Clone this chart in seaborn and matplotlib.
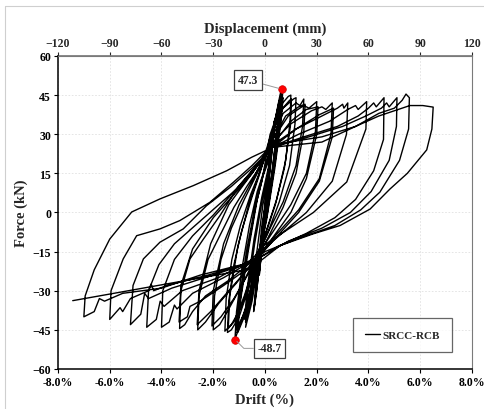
import numpy as np
import pandas as pd
import matplotlib
matplotlib.use("Agg")
import matplotlib.pyplot as plt
from matplotlib.lines import Line2D
from matplotlib.ticker import FuncFormatter
import seaborn as sns

# ---------------- data (drift %, force kN) ----------------
series_name = "SRCC-RCB"
drift_ticks = [-8, -6, -4, -2, 0, 2, 4, 6, 8]
force_ticks = [-60, -45, -30, -15, 0, 15, 30, 45, 60]
disp_ticks = [-120, -90, -60, -30, 0, 30, 60, 90, 120]
mm_per_pct = 15.0

peak_pos = (0.64, 47.3)
peak_neg = (-1.16, -48.7)

cycle_01 = [(0.00, 0), (0.08, 9), (0.18, 20), (0.12, 13), (0.00, 0), (-0.10, -11),
            (-0.20, -22), (-0.13, -13), (-0.02, -2)]
cycle_02 = [(0.06, 8), (0.16, 19), (0.20, 22), (0.13, 12), (0.01, -1), (-0.12, -13),
            (-0.22, -24), (-0.14, -14), (-0.03, -1)]
cycle_03 = [(0.10, 12), (0.28, 29), (0.36, 35), (0.28, 25), (0.08, 6), (-0.12, -12),
            (-0.32, -30), (-0.42, -37), (-0.30, -24), (-0.10, -6)]
cycle_04 = [(0.10, 13), (0.26, 27), (0.38, 36), (0.30, 26), (0.10, 7), (-0.10, -11),
            (-0.30, -28), (-0.44, -38), (-0.33, -26), (-0.12, -5)]
cycle_05 = [(0.05, 5), (0.25, 24), (0.45, 38), (0.55, 43), (0.50, 35), (0.30, 17),
            (0.05, 0), (-0.20, -16), (-0.50, -34), (-0.70, -42), (-0.75, -44),
            (-0.60, -33), (-0.30, -14), (-0.08, 3)]
cycle_06 = [(0.10, 12), (0.35, 32), (0.50, 40), (0.55, 42), (0.48, 33), (0.25, 14),
            (0.00, -3), (-0.30, -20), (-0.60, -36), (-0.75, -42), (-0.68, -32),
            (-0.40, -12), (-0.10, 5)]
cycle_07 = [(0.12, 14), (0.32, 30), (0.48, 39), (0.56, 41), (0.50, 31), (0.28, 13),
            (0.02, -4), (-0.28, -21), (-0.58, -35), (-0.78, -41), (-0.70, -30),
            (-0.42, -10), (-0.12, 6)]
cycle_08 = [(0.15, 18), (0.40, 36), (0.58, 45), (0.64, 47.3), (0.60, 40), (0.45, 25),
            (0.20, 8), (0.00, -4), (-0.30, -18), (-0.70, -35), (-1.00, -44),
            (-1.16, -48.7), (-1.10, -38), (-0.90, -22), (-0.60, -5), (-0.30, 8),
            (-0.10, 14)]
cycle_09 = [(0.15, 22), (0.40, 36), (0.62, 44), (0.66, 45), (0.58, 36), (0.35, 18),
            (0.05, -2), (-0.30, -19), (-0.70, -36), (-1.00, -44), (-1.08, -46),
            (-0.95, -34), (-0.65, -15), (-0.30, 5), (-0.10, 13)]
cycle_10 = [(0.18, 24), (0.42, 37), (0.64, 43), (0.70, 44), (0.62, 35), (0.38, 17),
            (0.06, -3), (-0.32, -20), (-0.72, -37), (-1.02, -43), (-1.12, -45),
            (-1.00, -33), (-0.70, -14), (-0.35, 4), (-0.12, 13)]
cycle_11 = [(0.15, 20), (0.45, 38), (0.68, 45.5), (0.62, 37), (0.40, 20), (0.08, -1),
            (-0.35, -22), (-0.80, -40), (-1.05, -46), (-0.98, -35), (-0.70, -16),
            (-0.35, 3), (-0.12, 12)]
cycle_12 = [(0.20, 30), (0.60, 41), (0.90, 44.5), (1.00, 45), (0.97, 35), (0.80, 20),
            (0.45, 5), (0.05, -7), (-0.30, -16), (-0.60, -28), (-1.00, -40),
            (-1.30, -45), (-1.45, -46), (-1.40, -34), (-1.20, -20), (-0.90, -7),
            (-0.50, 6), (-0.20, 15)]
cycle_13 = [(0.20, 28), (0.60, 39), (0.95, 43), (1.02, 43.5), (0.98, 33), (0.75, 17),
            (0.40, 3), (0.00, -9), (-0.40, -20), (-0.90, -36), (-1.30, -43),
            (-1.42, -44.5), (-1.36, -32), (-1.05, -13), (-0.60, 4), (-0.25, 14)]
cycle_14 = [(0.20, 29), (0.70, 40), (1.10, 43.5), (1.20, 44), (1.16, 34), (0.95, 18),
            (0.55, 4), (0.10, -8), (-0.35, -18), (-0.80, -32), (-1.20, -42),
            (-1.50, -45), (-1.55, -45.5), (-1.50, -33), (-1.28, -18), (-0.95, -5),
            (-0.55, 7), (-0.22, 15)]
cycle_15 = [(0.20, 27), (0.70, 38), (1.20, 42), (1.35, 41), (1.50, 43.5), (1.45, 33),
            (1.20, 18), (0.70, 4), (0.10, -8), (-0.40, -18), (-0.90, -28),
            (-1.40, -37), (-1.75, -43), (-2.00, -45), (-1.95, -32), (-1.70, -18),
            (-1.30, -6), (-0.80, 5), (-0.30, 15)]
cycle_16 = [(0.25, 27), (0.80, 37), (1.30, 40.5), (1.55, 41.5), (1.50, 31), (1.20, 15),
            (0.70, 2), (0.10, -10), (-0.50, -21), (-1.20, -33), (-1.70, -40),
            (-2.05, -43.5), (-2.00, -30), (-1.60, -12), (-1.00, 3), (-0.40, 14)]
cycle_17 = [(0.30, 28), (0.90, 37), (1.50, 41), (1.70, 40), (2.00, 42.5), (1.95, 31),
            (1.60, 15), (1.00, 3), (0.20, -9), (-0.40, -18), (-1.10, -27),
            (-1.80, -35), (-2.30, -42), (-2.60, -45), (-2.55, -32), (-2.20, -18),
            (-1.70, -8), (-1.20, 2), (-0.70, 10), (-0.30, 16)]
cycle_18 = [(0.30, 26), (1.00, 35), (1.60, 39.5), (2.05, 40.5), (2.00, 30), (1.60, 13),
            (1.00, 0), (0.20, -11), (-0.60, -21), (-1.40, -30), (-2.10, -38),
            (-2.62, -43), (-2.55, -30), (-2.10, -12), (-1.40, 3), (-0.50, 15)]
cycle_19 = [(0.30, 27), (1.00, 34), (1.80, 39), (2.20, 40.5), (2.35, 39.5), (2.60, 42),
            (2.55, 30), (2.10, 13), (1.30, 1), (0.30, -10), (-0.40, -18),
            (-1.40, -26), (-2.30, -32), (-2.80, -38), (-3.10, -43), (-3.30, -44.5),
            (-3.25, -30), (-2.90, -17.8), (-2.38, -10.2), (-1.74, -1.2),
            (-1.09, 9), (-0.45, 16)]
cycle_20 = [(0.30, 25), (1.20, 32), (2.10, 37.5), (2.65, 40), (2.60, 29), (2.10, 12),
            (1.30, 0), (0.30, -11), (-0.60, -21), (-1.60, -28), (-2.50, -34),
            (-2.90, -36), (-3.00, -40), (-3.32, -42), (-3.25, -28), (-2.80, -14),
            (-2.00, -2), (-1.10, 8), (-0.50, 15)]
cycle_21 = [(0.30, 26), (1.20, 32), (2.20, 37), (2.80, 40), (3.00, 41.5), (3.05, 40),
            (3.20, 42), (3.15, 30), (2.60, 12), (1.60, 0), (0.30, -11), (-0.40, -18),
            (-1.60, -25), (-2.80, -31), (-3.40, -37), (-3.50, -35.5), (-3.70, -42),
            (-4.00, -44), (-3.95, -30), (-3.50, -18), (-2.80, -9), (-2.00, -1),
            (-1.20, 8), (-0.50, 16)]
cycle_22 = [(0.30, 25), (1.30, 30), (2.50, 35), (3.20, 39.5), (3.50, 41), (3.60, 39.5),
            (3.93, 42.5), (3.90, 32), (3.16, 11.7), (1.87, 0), (-0.06, -12.7),
            (-0.50, -18), (-1.80, -25), (-3.20, -30), (-3.90, -36), (-4.05, -34),
            (-4.20, -41), (-4.57, -44), (-4.50, -30), (-4.10, -20), (-3.50, -12),
            (-2.70, -5), (-1.90, 2), (-1.10, 9), (-0.50, 16)]
cycle_23 = [(0.30, 25), (1.50, 29), (2.80, 33), (3.60, 37), (4.00, 40), (4.20, 42),
            (4.30, 40.5), (4.60, 44), (4.58, 28), (4.20, 16), (3.50, 5), (2.70, -2),
            (1.60, -8), (0.50, -13), (-0.50, -19), (-2.00, -24), (-3.60, -29),
            (-4.50, -33), (-4.65, -31), (-4.80, -39), (-5.20, -43), (-5.10, -28),
            (-4.70, -17.8), (-4.06, -11.4), (-3.16, -6.3), (-2.26, 2.6),
            (-1.30, 10), (-0.50, 17)]
cycle_24 = [(0.30, 25), (1.70, 29), (3.00, 33), (3.90, 37), (4.50, 40), (4.70, 42),
            (4.80, 40.5), (5.10, 44), (5.08, 33), (4.80, 20), (4.10, 8), (3.30, 0),
            (2.20, -6), (0.90, -11), (-0.50, -19), (-2.20, -24), (-3.80, -28),
            (-4.30, -30), (-4.40, -27.5), (-4.50, -30), (-5.20, -33), (-5.50, -38),
            (-5.60, -36.5), (-6.00, -41), (-5.95, -30), (-5.48, -17.8),
            (-4.96, -8.9), (-4.06, -6.3), (-3.29, -3.1), (-2.13, 3.9),
            (-1.22, 11.6), (-0.50, 18)]
cycle_25 = [(0.30, 26), (2.20, 29), (3.50, 33), (4.40, 38), (5.00, 40), (5.10, 41),
            (5.30, 43), (5.45, 45.4), (5.58, 44), (5.55, 32), (5.20, 20),
            (4.44, 7.8), (3.70, 1), (2.70, -5), (1.22, -10.2), (0.00, -15),
            (-0.50, -19), (-2.50, -24), (-4.00, -29), (-5.50, -31), (-6.20, -34),
            (-6.40, -33), (-6.60, -38), (-7.00, -40), (-6.95, -32), (-6.60, -22),
            (-6.00, -10.2), (-5.15, 0.2), (-4.06, 5.2), (-2.77, 10.3),
            (-1.48, 16), (-0.51, 21.2)]
cycle_26 = [(0.30, 25), (2.20, 27), (3.50, 33), (4.40, 37), (5.30, 40), (5.60, 41),
            (6.10, 41), (6.50, 40.4), (6.45, 32), (6.25, 24), (5.50, 15),
            (4.83, 9), (4.06, 1.3), (2.90, -5), (1.86, -8.2), (0.58, -12.7),
            (-0.58, -21.7), (-7.43, -33.8)]

cycles = [cycle_01, cycle_02, cycle_03, cycle_04, cycle_05, cycle_06, cycle_07,
          cycle_08, cycle_09, cycle_10, cycle_11, cycle_12, cycle_13, cycle_14,
          cycle_15, cycle_16, cycle_17, cycle_18, cycle_19, cycle_20, cycle_21,
          cycle_22, cycle_23, cycle_24, cycle_25, cycle_26]

# ---------------- build table ----------------
rows = [pt for c in cycles for pt in c]
df = pd.DataFrame(rows, columns=["drift", "force"])
df["step"] = np.arange(len(df))
peaks = pd.DataFrame([peak_pos, peak_neg], columns=["drift", "force"])

# ---------------- figure ----------------
sns.set_theme(style="white")
plt.rcParams["font.family"] = ["Liberation Serif", "DejaVu Serif"]
plt.rcParams["font.weight"] = "bold"

fig = plt.figure(figsize=(4.84, 4.10), dpi=100)
ax = fig.add_axes([0.1198, 0.0976, 0.8554, 0.7634])

sns.lineplot(data=df, x="drift", y="force", sort=False, estimator=None,
             color="black", lw=1.0, label=series_name, ax=ax, zorder=3)
sns.scatterplot(data=peaks, x="drift", y="force", color="#ff0000", s=30,
                edgecolor="#cc0000", linewidth=0.5, ax=ax, zorder=5, legend=False)

ax.set_xlim(-8, 8)
ax.set_ylim(-60, 60)
ax.set_xticks(drift_ticks)
ax.set_yticks(force_ticks)
ax.xaxis.set_major_formatter(FuncFormatter(lambda v, p: f"{v:.1f}%"))
ax.grid(True, color="#e0e0e0", linestyle=(0, (2, 2)), lw=0.6)
ax.set_axisbelow(True)

for s in ["left", "bottom"]:
    ax.spines[s].set_color("black")
    ax.spines[s].set_linewidth(1.1)
for s in ["top", "right"]:
    ax.spines[s].set_color("#7a7a7a")
    ax.spines[s].set_linewidth(0.8)

ax.tick_params(axis="both", direction="out", length=3, width=0.8, labelsize=8.5,
               colors="black", pad=2, bottom=True, left=True)
for lab in ax.get_xticklabels() + ax.get_yticklabels():
    lab.set_fontweight("bold")

ax.set_xlabel("Drift (%)", fontsize=10.5, fontweight="bold", labelpad=3)
ax.set_ylabel("Force (kN)", fontsize=10.5, fontweight="bold", labelpad=3)

sec = ax.secondary_xaxis("top", functions=(lambda d: d * mm_per_pct,
                                            lambda m: m / mm_per_pct))
sec.set_xticks(disp_ticks)
sec.tick_params(direction="out", length=3, width=0.8, labelsize=8.5, pad=2)
for lab in sec.get_xticklabels():
    lab.set_fontweight("bold")
sec.set_xlabel("Displacement (mm)", fontsize=10.5, fontweight="bold", labelpad=4)
sec.spines["top"].set_color("#7a7a7a")

# annotations for peaks
box = dict(boxstyle="square,pad=0.3", fc="white", ec="#404040", lw=0.9)
ax.annotate(f"{peak_pos[1]:.1f}", xy=peak_pos, xytext=(-0.66, 50.8),
            ha="center", va="center", fontsize=8.5, fontweight="bold", bbox=box,
            arrowprops=dict(arrowstyle="-", color="#9a9a9a", lw=0.7,
                            shrinkA=0, shrinkB=2), zorder=6)
ax.annotate(f"{peak_neg[1]:.1f}", xy=peak_neg, xytext=(0.17, -52.1),
            ha="center", va="center", fontsize=8.5, fontweight="bold", bbox=box,
            arrowprops=dict(arrowstyle="-", color="#9a9a9a", lw=0.7,
                            connectionstyle="angle,angleA=0,angleB=-45,rad=0",
                            shrinkA=0, shrinkB=2), zorder=6)

leg = ax.legend(loc="lower right", bbox_to_anchor=(0.952, 0.054), frameon=True,
                fancybox=False, edgecolor="#404040", fontsize=8,
                handlelength=1.4, borderpad=1.1, handletextpad=0.2,
                borderaxespad=0)
leg.get_frame().set_linewidth(0.9)
for t in leg.get_texts():
    t.set_fontweight("bold")

# light outer frame of the picture (left and top edges)
fig.add_artist(Line2D([5 / 484, 5 / 484], [0, 1 - 7 / 410], color="#cfcfcf",
                      lw=0.8, transform=fig.transFigure))
fig.add_artist(Line2D([5 / 484, 1], [1 - 7 / 410, 1 - 7 / 410], color="#cfcfcf",
                      lw=0.8, transform=fig.transFigure))

fig.savefig("out.png", dpi=100)
